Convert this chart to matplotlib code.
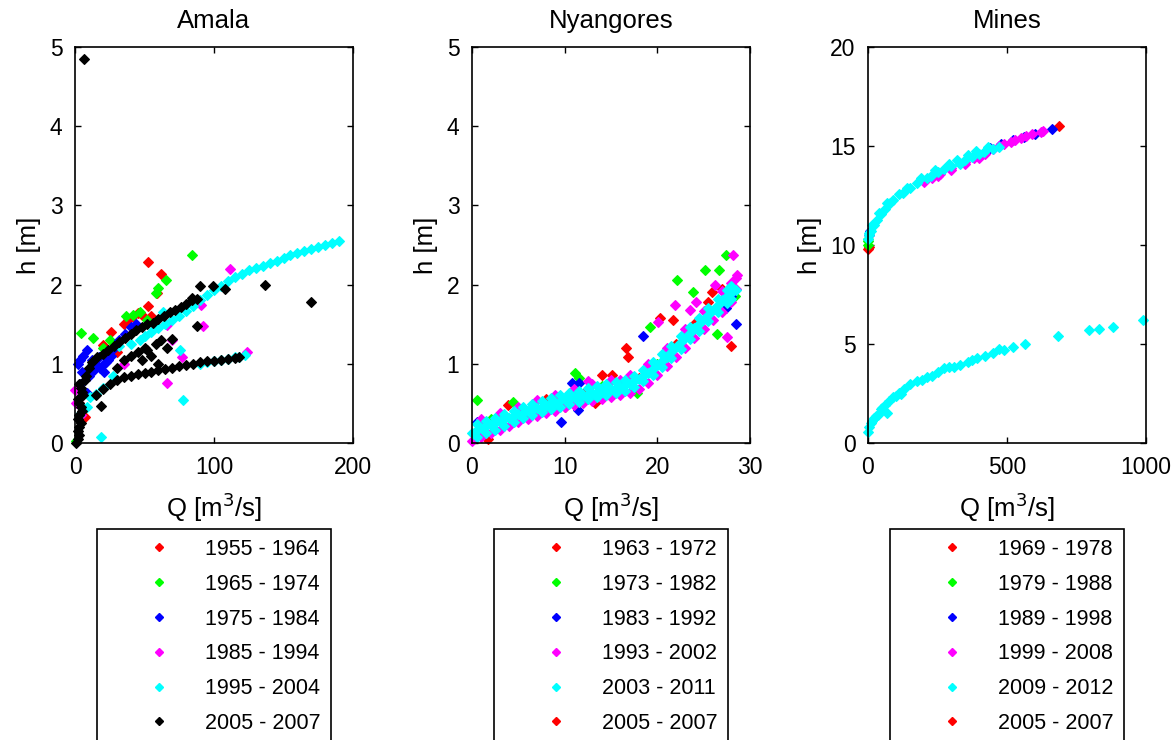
import matplotlib
matplotlib.use("Agg")
import matplotlib.pyplot as plt
from matplotlib.lines import Line2D

plt.rcParams['font.family'] = ['Liberation Sans', 'DejaVu Sans']

# ---------------- Amala ----------------
amala_labels = ["1955 - 1964", "1965 - 1974", "1975 - 1984", "1985 - 1994", "1995 - 2004", "2005 - 2007"]

am_red_Q = [52.6, 62, 59, 52.6, 26, 45, 42, 20, 7, 38, 30, 35, 48, 55, 3]
am_red_h = [2.29, 2.14, 1.90, 1.73, 1.40, 1.64, 1.60, 1.24, 0.33, 1.55, 1.15, 1.50, 1.62, 1.60, 0.50]

am_green_Q = [84, 65.5, 60, 58.5, 47, 37, 4, 13, 20, 12, 0.5, 42, 52, 25]
am_green_h = [2.37, 2.06, 1.96, 1.90, 1.66, 1.60, 1.39, 1.33, 1.20, 0.98, 0.02, 1.62, 1.55, 1.30]

am_blue_Q = [2, 3.6, 6, 8.4, 12, 15, 18, 20, 22, 24, 26, 28, 32, 36, 40, 44, 8.4, 3.6, 10, 5, 14, 17, 21]
am_blue_h = [1.00, 1.05, 1.10, 1.17, 1.05, 1.00, 0.95, 0.98, 1.02, 1.05, 1.10, 1.20, 1.30, 1.38, 1.47, 1.50, 0.63, 0.75, 0.85, 0.90, 0.92, 1.08, 0.90]

am_mag_Q = [111.5, 123.5, 92, 91, 66, 77, 0, 4, 66, 1, 35, 70]
am_mag_h = [2.20, 1.15, 1.48, 1.74, 0.76, 1.09, 0.67, 0.35, 1.49, 0.50, 1.00, 1.30]

am_cyan_Q = [50, 55, 60, 65, 70, 75, 80, 85, 90, 95, 100, 105, 110, 115, 120, 125, 130, 135, 140,
             145, 150, 155, 160, 165, 170, 175, 180, 185, 190,
             3, 5, 8.4, 11, 15, 20, 27, 32, 40, 47, 63, 75.5, 19, 78, 90, 95, 100, 105, 110, 115, 118, 122]
am_cyan_h = [1.35, 1.40, 1.45, 1.50, 1.55, 1.60, 1.67, 1.73, 1.80, 1.87, 1.93, 1.98, 2.05, 2.10, 2.14, 2.18, 2.21, 2.24, 2.27,
             2.30, 2.33, 2.37, 2.40, 2.42, 2.45, 2.47, 2.50, 2.52, 2.55,
             0.35, 0.45, 0.46, 0.58, 0.62, 0.69, 0.84, 1.23, 1.25, 1.30, 1.66, 1.17, 0.08, 0.54, 1.00, 1.02, 1.03, 1.05, 1.06, 1.08, 1.09, 1.11]

am_black_Q = [1, 2, 3, 2.5, 3, 4, 2, 3, 5, 4, 3, 2, 6, 5, 4, 3, 7, 8,
              10, 12, 16, 20, 24, 28, 32, 36, 40, 44, 48, 52, 56, 60, 64, 68, 72, 76, 80, 84, 88,
              15, 20, 25, 30, 35, 40, 45, 50, 55, 60, 65, 70, 75, 80, 85, 90, 95, 100, 105, 110, 115, 118,
              45, 50, 52, 55, 58, 62, 66, 70, 48, 60, 40, 35, 30,
              6.5, 137, 169.5, 90, 99, 108, 88, 84, 19]
am_black_h = [0.00, 0.05, 0.10, 0.15, 0.20, 0.25, 0.30, 0.35, 0.40, 0.45, 0.50, 0.55, 0.60, 0.65, 0.70, 0.75, 0.80, 0.85,
              0.95, 1.02, 1.08, 1.13, 1.18, 1.23, 1.28, 1.33, 1.38, 1.43, 1.47, 1.50, 1.52, 1.56, 1.60, 1.65, 1.68, 1.72, 1.75, 1.80, 1.82,
              0.60, 0.68, 0.75, 0.80, 0.83, 0.85, 0.87, 0.88, 0.90, 0.92, 0.94, 0.95, 0.97, 0.98, 1.00, 1.02, 1.03, 1.04, 1.05, 1.06, 1.07, 1.08,
              1.15, 1.20, 1.17, 1.10, 1.25, 1.30, 1.20, 1.31, 1.05, 1.00, 1.10, 1.05, 0.95,
              4.85, 1.99, 1.78, 1.98, 1.98, 1.94, 1.48, 1.83, 0.47]

# ---------------- Nyangores ----------------
ny_labels = ["1963 - 1972", "1973 - 1982", "1983 - 1992", "1993 - 2002", "2003 - 2011", "2005 - 2007"]

ny_red_Q = [27.9, 16.6, 16.8, 14, 15.1, 20.3, 21.7, 25.9, 25.5, 1.7, 8, 12, 18, 19.5, 22, 24, 27, 5, 3.9, 1.4, 13.3, 10]
ny_red_h = [1.22, 1.20, 1.09, 0.86, 0.86, 1.58, 1.55, 1.91, 1.78, 0.05, 0.55, 0.62, 0.82, 1.00, 1.25, 1.50, 1.95, 0.42, 0.48, 0.08, 0.50, 0.45]

ny_green_Q = [0.5, 11.1, 11.5, 4.4, 22.1, 25.1, 26.7, 27.4, 23.9, 19.2, 26.4, 17.8, 28.4, 28, 20, 14, 2]
ny_green_h = [0.54, 0.88, 0.82, 0.52, 2.06, 2.18, 2.18, 2.37, 1.91, 1.47, 1.38, 0.63, 1.85, 1.95, 1.00, 0.72, 0.30]

ny_blue_Q = [28.5, 18.4, 9.6, 11.4, 10.8, 11.6, 0.5, 27.4, 28, 6]
ny_blue_h = [1.50, 1.35, 0.26, 0.42, 0.76, 0.76, 0.27, 1.70, 1.85, 0.35]

ny_mag_Q = [0, 1, 2, 3, 4, 5, 6, 7, 8, 9, 10, 11, 12, 13, 14, 15, 16, 17, 18, 19, 20, 21, 22, 23, 24, 25, 26, 27, 28,
            1, 3, 5, 7, 9, 11, 13, 15, 17, 19, 21, 23, 25, 27, 28, 28.5,
            28.2, 21.9, 24.2, 23.5, 20.1, 26.2, 28.5, 28.6, 27.5, 12.5, 16]
ny_mag_h = [0.02, 0.08, 0.12, 0.17, 0.22, 0.26, 0.30, 0.34, 0.38, 0.41, 0.45, 0.48, 0.50, 0.53, 0.56, 0.58, 0.60, 0.63, 0.68, 0.76, 0.86, 0.97, 1.08, 1.20, 1.32, 1.44, 1.55, 1.66, 1.78,
            0.30, 0.38, 0.46, 0.54, 0.61, 0.68, 0.74, 0.79, 0.86, 1.00, 1.20, 1.44, 1.67, 1.92, 2.02, 2.08,
            2.37, 1.74, 1.78, 1.68, 1.53, 2.00, 1.95, 2.12, 1.34, 0.78, 0.80]

ny_cyan_Q = [0, 0.5, 1, 1.5, 2, 2.5, 3, 3.5, 4, 4.5, 5, 5.5, 6, 6.5, 7, 7.5, 8, 8.5, 9, 9.5, 10, 10.5, 11, 11.5, 12,
             12.5, 13, 13.5, 14, 14.5, 15, 15.5, 16, 16.5, 17, 17.5, 18, 18.5, 19, 19.5, 20, 20.5, 21, 21.5, 22,
             22.5, 23, 23.5, 24, 24.5, 25, 25.5, 26, 26.5, 27, 27.5, 28, 28.5,
             0.5, 1.5, 2.5, 3.5, 4.5, 5.5, 6.5, 7.5, 8.5, 9.5, 10.5, 11.5, 12.5, 13.5, 14.5, 15.5, 16.5, 17.5,
             18.5, 19.5, 20.5, 21.5, 22.5, 23.5, 24.5, 25.5, 26.5, 27.5, 28,
             0.5, 1.5, 2.5, 3.5, 4.5, 5.5, 6.5, 7.5, 8.5, 9.5, 10.5, 11.5, 12.5, 13.5, 14.5, 15.5, 16.5, 17.5,
             18.5, 19.5, 20.5, 21.5, 22.5, 23.5, 24.5, 25.5, 26.5, 27.5, 28]
ny_cyan_h = [0.12, 0.17, 0.19, 0.21, 0.23, 0.25, 0.28, 0.30, 0.32, 0.34, 0.36, 0.38, 0.40, 0.42, 0.44, 0.46, 0.48, 0.50, 0.51, 0.53, 0.55, 0.56, 0.58, 0.59, 0.60,
             0.62, 0.63, 0.65, 0.66, 0.67, 0.68, 0.70, 0.71, 0.73, 0.75, 0.78, 0.81, 0.85, 0.89, 0.94, 0.99, 1.04, 1.09, 1.15, 1.21,
             1.27, 1.33, 1.39, 1.45, 1.50, 1.56, 1.62, 1.68, 1.74, 1.80, 1.85, 1.90, 1.93,
             0.24, 0.28, 0.32, 0.37, 0.41, 0.45, 0.49, 0.53, 0.57, 0.60, 0.63, 0.66, 0.69, 0.72, 0.74, 0.77, 0.80, 0.85,
             0.92, 1.02, 1.12, 1.23, 1.35, 1.47, 1.58, 1.70, 1.82, 1.93, 1.98,
             0.08, 0.13, 0.17, 0.22, 0.26, 0.31, 0.35, 0.39, 0.43, 0.46, 0.49, 0.52, 0.55, 0.58, 0.60, 0.63, 0.66, 0.71,
             0.78, 0.86, 0.96, 1.07, 1.19, 1.31, 1.42, 1.54, 1.66, 1.77, 1.82]

# ---------------- Mines ----------------
mi_labels = ["1969 - 1978", "1979 - 1988", "1989 - 1998", "1999 - 2008", "2009 - 2012", "2005 - 2007"]

mi_red_Q = [0, 2, 687]
mi_red_h = [9.8, 9.9, 16.0]

mi_green_Q = [0, 0, 1, 420]
mi_green_h = [10.0, 10.2, 10.3, 14.7]

mi_blue_Q = [5, 8, 440, 480, 520, 560, 600, 663]
mi_blue_h = [10.5, 10.7, 14.9, 15.1, 15.3, 15.45, 15.6, 15.86]

mi_mag_Q = [230, 260, 300, 350, 380, 420, 450, 470, 490, 513, 530, 550, 570, 590, 621, 630,
            200, 250, 300, 350, 400]
mi_mag_h = [13.4, 13.6, 13.9, 14.2, 14.4, 14.6, 14.85, 15.0, 15.1, 15.2, 15.3, 15.4, 15.5, 15.6, 15.7, 15.75,
            13.2, 13.5, 13.8, 14.1, 14.4]

mi_cyan_Q = [0, 5, 10, 20, 31, 45, 60, 80, 91, 125, 150, 175, 212, 225, 250, 275, 300, 332, 350, 375, 400, 416, 450, 470,
             3, 15, 40, 70, 110, 140, 190, 240, 290, 320, 360, 390, 430,
             0, 5, 10, 20, 36, 45, 60, 67, 75, 91, 110, 130, 152, 175, 212, 250, 272, 290, 332, 360, 392, 420, 450, 488,
             520, 563, 683, 795, 830, 883, 991,
             15, 30, 52, 100, 120, 195, 230, 310, 375, 470]
mi_cyan_h = [10.3, 10.5, 10.7, 11.0, 11.26, 11.55, 11.8, 12.1, 12.27, 12.65, 12.9, 13.15, 13.37, 13.5, 13.7, 13.85, 14.0, 14.1, 14.3, 14.45, 14.6, 14.7, 14.85, 14.95,
             10.6, 11.0, 11.6, 12.1, 12.6, 12.9, 13.4, 13.8, 14.1, 14.3, 14.55, 14.75, 14.95,
             0.57, 0.8, 1.0, 1.25, 1.41, 1.7, 1.9, 1.5, 2.1, 2.34, 2.55, 2.75, 3.0, 3.15, 3.35, 3.6, 3.77, 3.85, 3.94, 4.1, 4.27, 4.4, 4.55, 4.7,
             4.85, 5.0, 5.4, 5.7, 5.76, 5.87, 6.2,
             1.1, 1.35, 1.75, 2.35, 2.5, 3.2, 3.4, 3.85, 4.2, 4.75]

colors = ["#ff0000", "#00ff00", "#0000ff", "#ff00ff", "#00ffff", "#000000"]

fig = plt.figure(figsize=(11.76, 7.40), dpi=100)

W, H = 1176.0, 740.0
ax_lefts = [75, 472, 868]
ax_w = 278
ax_top, ax_bot = 47, 443

panels = [
    ("Amala", amala_labels,
     [(am_red_Q, am_red_h), (am_green_Q, am_green_h), (am_blue_Q, am_blue_h),
      (am_mag_Q, am_mag_h), (am_cyan_Q, am_cyan_h), (am_black_Q, am_black_h)],
     colors, (0, 200), [0, 100, 200], (0, 5), [0, 1, 2, 3, 4, 5]),
    ("Nyangores", ny_labels,
     [(ny_red_Q, ny_red_h), (ny_green_Q, ny_green_h), (ny_blue_Q, ny_blue_h),
      (ny_mag_Q, ny_mag_h), (ny_cyan_Q, ny_cyan_h), ([], [])],
     colors[:5] + ["#ff0000"], (0, 30), [0, 10, 20, 30], (0, 5), [0, 1, 2, 3, 4, 5]),
    ("Mines", mi_labels,
     [(mi_red_Q, mi_red_h), (mi_green_Q, mi_green_h), (mi_blue_Q, mi_blue_h),
      (mi_mag_Q, mi_mag_h), (mi_cyan_Q, mi_cyan_h), ([], [])],
     colors[:5] + ["#ff0000"], (0, 1000), [0, 500, 1000], (0, 20), [0, 5, 10, 15, 20]),
]

TICK_FS = 16.5
LAB_FS = 18.5
LEG_FS = 15.5
for i, (title, labels, series, cols, xl, xt, yl, yt) in enumerate(panels):
    ax = fig.add_axes([ax_lefts[i] / W, 1 - ax_bot / H, ax_w / W, (ax_bot - ax_top) / H])
    for (q, h), c in zip(series, cols):
        ax.plot(q, h, linestyle='none', marker='D', markersize=5.0, color=c,
                markeredgecolor=c, markeredgewidth=0.8, clip_on=False)
    ax.set_xlim(*xl)
    ax.set_ylim(*yl)
    ax.set_xticks(xt)
    ax.set_yticks(yt)
    ax.tick_params(direction='in', top=True, right=True, length=4, width=1,
                   labelsize=TICK_FS, pad=9)
    for s in ax.spines.values():
        s.set_linewidth(1.2)
    ax.set_title(title, fontsize=LAB_FS, pad=14)
    ax.set_ylabel("h [m]", fontsize=LAB_FS, labelpad=6)
    ax.set_xlabel("Q [m$^3$/s]", fontsize=LAB_FS, labelpad=9)
    handles = [Line2D([], [], linestyle='none', marker='D', markersize=3.8, color=c,
                      markeredgecolor=c) for c in cols]
    leg = ax.legend(handles, labels, loc='upper center', bbox_to_anchor=(0.5, -0.218),
                    fontsize=LEG_FS, frameon=True, fancybox=False, framealpha=1,
                    edgecolor='black', borderpad=0.45, handlelength=4.84,
                    handletextpad=-0.28, labelspacing=0.64, borderaxespad=0)
    leg.get_frame().set_linewidth(1.2)

fig.savefig("out.png", dpi=100)
